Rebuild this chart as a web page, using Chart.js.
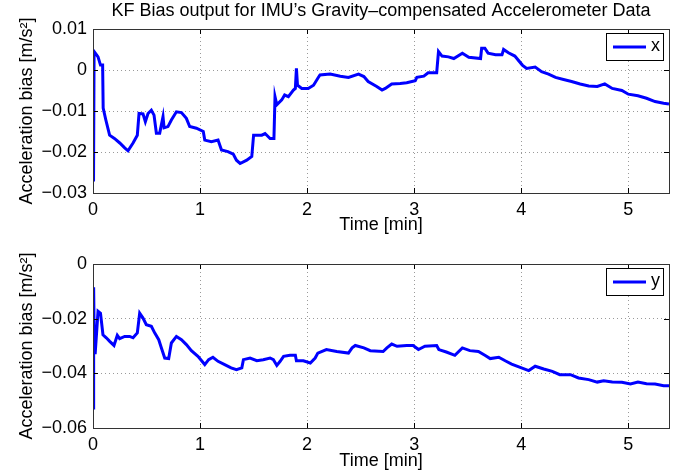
<!DOCTYPE html>
<html lang="en">

<head>
    <meta charset="UTF-8">
    <title>KF Bias output</title>
    <style>
        body { margin: 0; background: #fff; }
        .plot { position: absolute; left: 0; width: 690px; }
    </style>
</head>

<body>
    <div class="plot" style="top:0; height:240px"><canvas id="grafX" width="690" height="240"></canvas></div>
    <div class="plot" style="top:240px; height:236px"><canvas id="grafY" width="690" height="236"></canvas></div>

    <script src="https://cdn.jsdelivr.net/npm/chart.js"></script>
    <script>
        // time [min] and bias [m/s^2]
        const tiempoX = [0.005, 0.01, 0.03, 0.047, 0.07, 0.09, 0.095, 0.12, 0.155, 0.2, 0.25, 0.296, 0.327, 0.374, 0.414, 0.43, 0.467, 0.489, 0.514, 0.545, 0.57, 0.592, 0.623, 0.654, 0.664, 0.70, 0.732, 0.779, 0.826, 0.872, 0.903, 0.966, 1.03, 1.044, 1.106, 1.168, 1.2, 1.26, 1.31, 1.34, 1.374, 1.436, 1.483, 1.5, 1.576, 1.607, 1.654, 1.69, 1.70, 1.717, 1.763, 1.79, 1.825, 1.872, 1.89, 1.9, 1.91, 1.95, 2.01, 2.06, 2.1, 2.12, 2.215, 2.31, 2.386, 2.48, 2.53, 2.57, 2.65, 2.70, 2.73, 2.79, 2.87, 2.93, 3.01, 3.025, 3.09, 3.13, 3.21, 3.227, 3.26, 3.32, 3.37, 3.45, 3.51, 3.62, 3.63, 3.66, 3.69, 3.76, 3.82, 3.835, 3.88, 3.94, 4.01, 4.05, 4.13, 4.19, 4.255, 4.32, 4.395, 4.47, 4.55, 4.63, 4.71, 4.78, 4.85, 4.94, 5.0, 5.09, 5.17, 5.25, 5.33, 5.38]
        const biasX = [-0.0272, 0.0045, 0.0038, 0.0032, 0.0012, 0.0012, -0.0093, -0.0122, -0.0159, -0.0167, -0.0178, -0.019, -0.0197, -0.0178, -0.0159, -0.0106, -0.0107, -0.0126, -0.0106, -0.0098, -0.011, -0.0154, -0.0154, -0.0114, -0.0141, -0.0138, -0.0122, -0.0102, -0.0104, -0.0118, -0.0138, -0.0142, -0.015, -0.0171, -0.0175, -0.0171, -0.0195, -0.0199, -0.0205, -0.022, -0.0228, -0.022, -0.0211, -0.0159, -0.0159, -0.0155, -0.0167, -0.0167, -0.0065, -0.0085, -0.0073, -0.0061, -0.0065, -0.0049, -0.0045, 0.0004, -0.0037, -0.0045, -0.0045, -0.0037, -0.002, -0.0012, -0.001, -0.0015, -0.0018, -0.001, -0.0016, -0.0028, -0.004, -0.0049, -0.0045, -0.0034, -0.0033, -0.0031, -0.0026, -0.0018, -0.0015, -0.0007, -0.0007, 0.0045, 0.0034, 0.0032, 0.0028, 0.0041, 0.0031, 0.0028, 0.0053, 0.0053, 0.0041, 0.0037, 0.0037, 0.005, 0.0042, 0.0034, 0.0012, 0.0004, 0.0007, -0.0004, -0.001, -0.0018, -0.0023, -0.0028, -0.0034, -0.0039, -0.004, -0.0034, -0.0045, -0.005, -0.0059, -0.0063, -0.0069, -0.0077, -0.0081, -0.0083]

        const tiempoY = [0.003, 0.006, 0.012, 0.02, 0.047, 0.07, 0.093, 0.124, 0.156, 0.196, 0.227, 0.249, 0.296, 0.343, 0.374, 0.414, 0.436, 0.467, 0.498, 0.545, 0.576, 0.614, 0.639, 0.67, 0.707, 0.732, 0.779, 0.826, 0.872, 0.919, 0.98, 1.044, 1.08, 1.12, 1.168, 1.23, 1.29, 1.34, 1.39, 1.405, 1.467, 1.53, 1.59, 1.654, 1.685, 1.717, 1.748, 1.78, 1.84, 1.89, 1.9, 1.965, 2.03, 2.075, 2.1, 2.18, 2.277, 2.386, 2.42, 2.45, 2.53, 2.59, 2.71, 2.745, 2.79, 2.84, 2.93, 2.99, 3.04, 3.10, 3.21, 3.23, 3.30, 3.38, 3.45, 3.52, 3.60, 3.66, 3.71, 3.79, 3.85, 3.91, 3.99, 4.07, 4.13, 4.21, 4.29, 4.36, 4.46, 4.535, 4.63, 4.71, 4.77, 4.85, 4.94, 5.02, 5.09, 5.17, 5.25, 5.33, 5.38]
        const biasY = [-0.0527, -0.0085, -0.03, -0.033, -0.0173, -0.018, -0.0259, -0.027, -0.0283, -0.0298, -0.0261, -0.0273, -0.0265, -0.0265, -0.027, -0.0252, -0.018, -0.0198, -0.0222, -0.0228, -0.0252, -0.0277, -0.0307, -0.0344, -0.0346, -0.0289, -0.0265, -0.0277, -0.0295, -0.0317, -0.0338, -0.0368, -0.035, -0.0341, -0.0356, -0.0368, -0.038, -0.0387, -0.038, -0.035, -0.0344, -0.0354, -0.035, -0.0344, -0.035, -0.0371, -0.0356, -0.0338, -0.0334, -0.0334, -0.0354, -0.0354, -0.0362, -0.0344, -0.0326, -0.0313, -0.032, -0.0326, -0.0307, -0.0298, -0.0307, -0.0317, -0.032, -0.0307, -0.0293, -0.0301, -0.0298, -0.0298, -0.0313, -0.0301, -0.0298, -0.0313, -0.0322, -0.0334, -0.0307, -0.0317, -0.032, -0.0334, -0.0346, -0.0341, -0.0354, -0.0366, -0.0378, -0.039, -0.0374, -0.0384, -0.0393, -0.0405, -0.0405, -0.0417, -0.0423, -0.0432, -0.0427, -0.0432, -0.0433, -0.0439, -0.0432, -0.0438, -0.0439, -0.0445, -0.0445]

        const ticksTiempo = [0, 1, 2, 3, 4, 5]
        const ticksX = [0.01, 0, -0.01, -0.02, -0.03]
        const ticksY = [0, -0.02, -0.04, -0.06]

        const titulo = "KF Bias output for IMU\u2019s Gravity\u2013compensated Accelerometer Data"
        const fuente = "'Liberation Sans', Arial, sans-serif"

        Chart.defaults.font.family = fuente
        Chart.defaults.color = "#000"

        function formatoTick(valor) {
            let v = Math.round(valor * 1000) / 1000
            if (v === 0) return "0"
            return v.toFixed(2).replace("-", "\u2212")
        }

        // caja negra, marcas hacia adentro, leyenda y titulo (estilo matlab)
        const marcoMatlab = {
            id: "marcoMatlab",
            afterDraw(chart, args, opts) {
                const ctx = chart.ctx
                const a = chart.chartArea
                const sx = chart.scales.x
                const sy = chart.scales.y
                ctx.save()
                ctx.strokeStyle = "#000"
                ctx.lineWidth = 1
                ctx.beginPath()
                sx.ticks.forEach(t => {
                    let px = Math.round(sx.getPixelForValue(t.value)) + 0.5
                    ctx.moveTo(px, a.bottom); ctx.lineTo(px, a.bottom - 5)
                    ctx.moveTo(px, a.top); ctx.lineTo(px, a.top + 5)
                })
                sy.ticks.forEach(t => {
                    let py = Math.round(sy.getPixelForValue(t.value)) + 0.5
                    ctx.moveTo(a.left, py); ctx.lineTo(a.left + 5, py)
                    ctx.moveTo(a.right, py); ctx.lineTo(a.right - 5, py)
                })
                ctx.stroke()
                ctx.strokeStyle = "#333"
                ctx.strokeRect(Math.round(a.left) + 0.5, Math.round(a.top) + 0.5, Math.round(a.right - a.left), Math.round(a.bottom - a.top))

                // leyenda
                let lx = a.right - 63, ly = a.top + 4
                ctx.fillStyle = "#fff"
                ctx.fillRect(lx, ly, 57, 27)
                ctx.strokeStyle = "#000"
                ctx.strokeRect(lx + 0.5, ly + 0.5, 57, 27)
                ctx.strokeStyle = "#0000ff"
                ctx.lineWidth = 3
                ctx.beginPath()
                ctx.moveTo(lx + 7, ly + 14); ctx.lineTo(lx + 40, ly + 14)
                ctx.stroke()
                ctx.fillStyle = "#000"
                ctx.font = "18px " + fuente
                ctx.textBaseline = "middle"
                ctx.fillText(opts.etiqueta, lx + 45, ly + 13)

                if (opts.titulo) {
                    ctx.textAlign = "center"
                    ctx.font = "18px " + fuente
                    ctx.fillText(opts.titulo, (a.left + a.right) / 2, 11)
                }
                ctx.restore()
            }
        }

        function crearGrafico(canvas, tiempos, valores, ticksVal, etiqueta, arriba, altoX, tituloTxt) {
            let puntos = tiempos.map((t, i) => ({ x: t, y: valores[i] }))
            return new Chart(canvas, {
                type: "line",
                data: {
                    datasets: [{
                        label: etiqueta,
                        data: puntos,
                        borderColor: "#0000ff",
                        backgroundColor: "#0000ff",
                        borderWidth: 3,
                        pointRadius: 0,
                        tension: 0
                    }]
                },
                options: {
                    responsive: false,
                    animation: false,
                    devicePixelRatio: 1,
                    layout: { padding: { top: arriba, right: 21, left: 0, bottom: 0 } },
                    plugins: {
                        legend: { display: false },
                        tooltip: { enabled: false },
                        marcoMatlab: { etiqueta: etiqueta, titulo: tituloTxt }
                    },
                    scales: {
                        x: {
                            type: "linear",
                            min: 0,
                            max: 5.38,
                            afterBuildTicks: (s) => { s.ticks = ticksTiempo.map(v => ({ value: v })) },
                            afterFit: (s) => { s.height = altoX },
                            ticks: { font: { size: 18 }, padding: 6, maxRotation: 0 },
                            grid: { color: "#9a9a9a", drawTicks: false },
                            border: { display: false, dash: [1, 3] },
                            title: { display: true, text: "Time [min]", font: { size: 18 }, padding: { top: 0, bottom: 4 } }
                        },
                        y: {
                            min: ticksVal[ticksVal.length - 1],
                            max: ticksVal[0],
                            afterBuildTicks: (s) => { s.ticks = ticksVal.slice().reverse().map(v => ({ value: v })) },
                            afterFit: (s) => { s.width = 93 },
                            ticks: { font: { size: 18 }, padding: 6, callback: formatoTick },
                            grid: { color: "#9a9a9a", drawTicks: false },
                            border: { display: false, dash: [1, 3] },
                            title: { display: true, text: "Acceleration bias [m/s\u00b2]", font: { size: 18 }, padding: { top: 16, bottom: 0 } }
                        }
                    }
                },
                plugins: [marcoMatlab]
            })
        }

        crearGrafico(document.querySelector("#grafX"), tiempoX, biasX, ticksX, "x", 29, 47, titulo)
        crearGrafico(document.querySelector("#grafY"), tiempoY, biasY, ticksY, "y", 24, 48, null)
    </script>
</body>

</html>
